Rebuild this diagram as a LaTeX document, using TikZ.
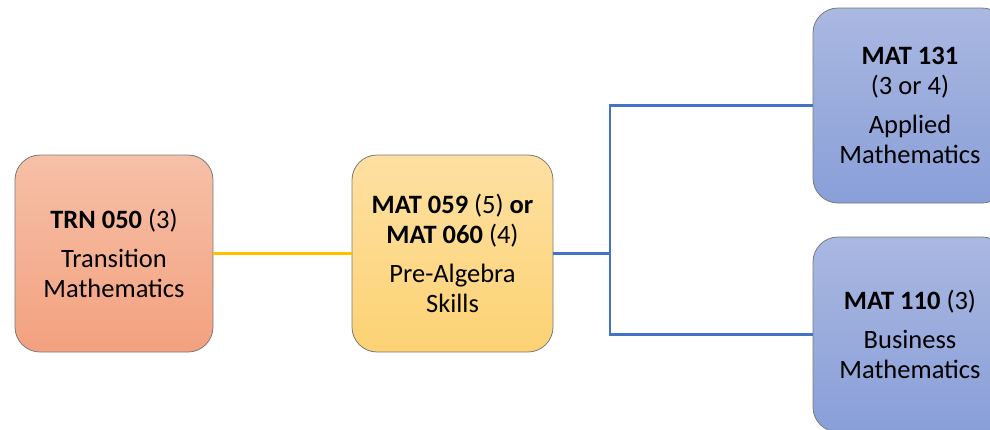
\documentclass[tikz,border=0pt]{standalone}
\usepackage{fontspec}
\setmainfont{Carlito}
\definecolor{trnTop}{HTML}{F6C0A8}
\definecolor{trnBot}{HTML}{F3A17F}
\definecolor{midTop}{HTML}{FEE0A2}
\definecolor{midBot}{HTML}{FCD273}
\definecolor{bluTop}{HTML}{AAB8E1}
\definecolor{bluBot}{HTML}{899FD8}
\definecolor{lineBlue}{HTML}{4472C4}
\definecolor{lineYel}{HTML}{FFC000}
\definecolor{edge}{HTML}{7A7A7A}
\tikzset{
  coursebox/.style={draw=edge, line width=0.8pt, rounded corners=25pt,
    align=center, inner sep=0pt,
    font=\fontsize{26.5}{30}\selectfont},
  trnstyle/.style={coursebox, top color=trnTop, bottom color=trnBot},
  midstyle/.style={coursebox, top color=midTop, bottom color=midBot},
  blustyle/.style={coursebox, top color=bluTop, bottom color=bluBot},
  yelline/.style={draw=lineYel, line width=2.3pt},
  bluline/.style={draw=lineBlue, line width=2.3pt},
}
\begin{document}
\begin{tikzpicture}[x=1pt,y=-1pt]
\useasboundingbox (0,0) rectangle (990,429);
\clip (0,0) rectangle (990,429);
\fill[white] (0,0) rectangle (990,429);
\node[trnstyle, minimum width=198pt, minimum height=197pt] (trn) at (114,253.5)
  {\textbf{TRN 050} (3)\\[9pt]Transition\\Mathematics};
\node[midstyle, minimum width=201pt, minimum height=197pt] (mid) at (452.5,253.5)
  {\textbf{MAT 059} (5) \textbf{or}\\\textbf{MAT 060} (4)\\[9pt]Pre-Algebra\\Skills};
\node[blustyle, minimum width=194pt, minimum height=195pt] (app) at (910,105.5)
  {\textbf{MAT 131}\\(3 or 4)\\[9pt]Applied\\Mathematics};
\node[blustyle, minimum width=194pt, minimum height=195pt] (bus) at (910,334.5)
  {\textbf{MAT 110} (3)\\[9pt]Business\\Mathematics};
\coordinate (junc) at (610,253.5);
\draw[yelline] (trn.east) -- (mid.west);
\draw[bluline] (mid.east) -- (junc);
\draw[bluline] (junc) |- (app.west);
\draw[bluline] (junc) |- (bus.west);
\end{tikzpicture}
\end{document}
